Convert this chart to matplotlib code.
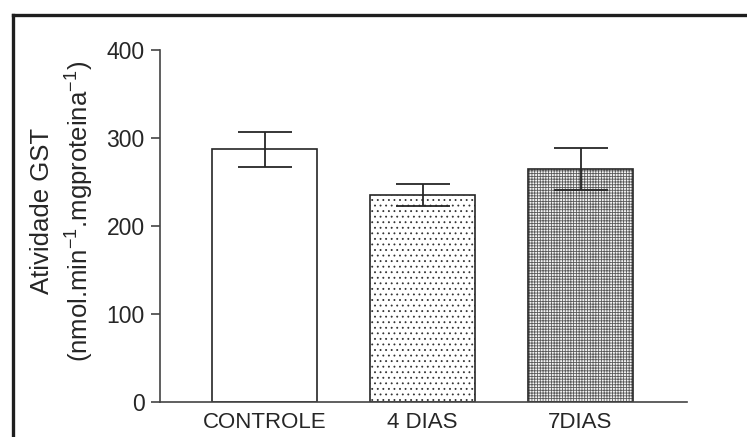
import matplotlib
matplotlib.use("Agg")
import matplotlib.pyplot as plt
from matplotlib.lines import Line2D

plt.rcParams['font.family'] = ['Liberation Sans', 'DejaVu Sans']
plt.rcParams['mathtext.fontset'] = 'custom'
plt.rcParams['mathtext.rm'] = 'Liberation Sans'
plt.rcParams['mathtext.default'] = 'regular'

categories = ["CONTROLE", "4 DIAS", "7DIAS"]
means = [287, 235, 265]
errors = [20, 12.5, 24]
yticks = [0, 100, 200, 300, 400]

INK = '#262626'
W, H = 747, 437
fig = plt.figure(figsize=(W / 100, H / 100), dpi=100)
ax = fig.add_axes([159.5 / W, 1 - 401.7 / H, (686.7 - 159.5) / W, (401.7 - 50) / H])

x = list(range(len(categories)))
bw = 0.67

# pattern fills (hatch drawn in grey, then outline on top)
hatches = [None, '...', '++++++']
hcolors = ['white', '#333333', '#5a5a5a']
plt.rcParams['hatch.linewidth'] = 0.6
for xi, m, h, hc in zip(x, means, hatches, hcolors):
    if h is not None:
        ax.bar(xi, m, width=bw, color='#f4f4f4' if h == '++++++' else 'white',
               edgecolor=hc, hatch=h, linewidth=0, zorder=1)
ax.bar(x, means, width=bw, facecolor='none', edgecolor=INK, linewidth=1.2, zorder=2)
ax.errorbar(x, means, yerr=errors, fmt='none', ecolor=INK, elinewidth=1.3,
            capsize=19.5, capthick=1.3, zorder=3)

ax.set_xlim(-0.665, 2.672)
ax.set_ylim(0, 400)
ax.set_yticks(yticks)
ax.set_yticklabels([str(t) for t in yticks])
ax.set_xticks(x)
ax.set_xticklabels(categories)
for s in ['top', 'right']:
    ax.spines[s].set_visible(False)
for s in ['left', 'bottom']:
    ax.spines[s].set_color('#444444')
    ax.spines[s].set_linewidth(1.2)
ax.tick_params(axis='y', length=6.8, width=1.2, color='#444444', pad=4,
               labelsize=16.5, labelcolor=INK)
ax.tick_params(axis='x', length=0, pad=7.5, labelsize=16, labelcolor=INK)

fig.text(42 / W, 1 - 211 / H, "Atividade GST", rotation=90, ha='center', va='center',
         fontsize=18.5, color=INK)
fig.text(80 / W, 1 - 211 / H, r"(nmol.min$^{-1}$.mgproteina$^{-1}$)", rotation=90,
         ha='center', va='center', fontsize=18.5, color=INK)

# partial frame around the figure (top and left edges)
fig.add_artist(Line2D([12.5 / W, 1.0], [1 - 14.5 / H, 1 - 14.5 / H], transform=fig.transFigure,
                      color='#1e1e1e', linewidth=2.4, solid_capstyle='projecting'))
fig.add_artist(Line2D([12.5 / W, 12.5 / W], [0.0, 1 - 14.5 / H], transform=fig.transFigure,
                      color='#1e1e1e', linewidth=2.4, solid_capstyle='projecting'))

fig.savefig("out.png", dpi=100)
